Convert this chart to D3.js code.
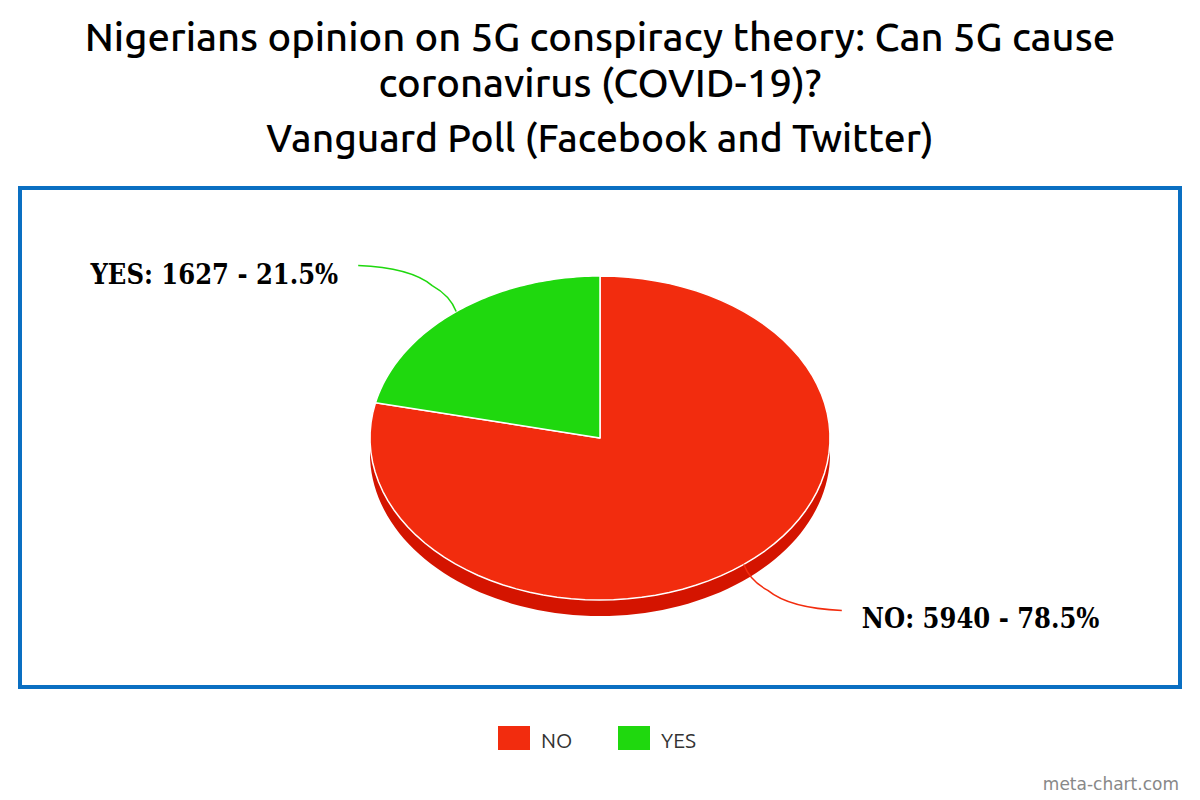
<!DOCTYPE html>
<html><head><meta charset="utf-8">
<script src="https://cdn.jsdelivr.net/npm/d3@7"></script>
<style>body{margin:0;background:#fff}</style>
</head><body>
<svg id="c" width="1200" height="800"></svg>
<script>
const titleLines = ["Nigerians opinion on 5G conspiracy theory: Can 5G cause", "coronavirus (COVID-19)?"];
const subtitle = "Vanguard Poll (Facebook and Twitter)";
const categories = ["NO", "YES"];
const values = [5940, 1627];
const percents = ["78.5%", "21.5%"];
const colors = ["#f22c0e", "#1fd80e"];
const sideColors = ["#d41400", "#15b006"];

const svg = d3.select("#c");
const W = 1200;
svg.append("rect").attr("width",1200).attr("height",800).attr("fill","#fff");

// titles
const tf = "Ubuntu, 'Noto Sans', 'Open Sans', sans-serif";
svg.selectAll("text.title").data(titleLines).join("text")
  .attr("x", W/2).attr("y",(d,i)=>51+i*46).attr("text-anchor","middle")
  .attr("font-family",tf).attr("font-size",40).attr("font-weight",500).attr("fill","#000").text(d=>d);
svg.append("text").attr("x",W/2).attr("y",152).attr("text-anchor","middle")
  .attr("font-family",tf).attr("font-size",39).attr("font-weight",500).attr("fill","#000").text(subtitle);

// frame
svg.append("rect").attr("x",20).attr("y",188).attr("width",1160).attr("height",499)
  .attr("fill","none").attr("stroke","#0a6fc2").attr("stroke-width",4);

// pie
const cx=600, cy=438, rx=230, ry=162, depth=16;
const pie = d3.pie().sort(null).value(d=>d.v);
const data = categories.map((c,i)=>({c, v:values[i], p:percents[i], i}));
const arcs = pie(data);
const pt = (a, dy=0) => [cx + rx*Math.sin(a), cy - ry*Math.cos(a) + dy];

function ellipseArcPath(p, a0, a1, dy, n=80){
  for(let k=0;k<=n;k++){
    const a = a0 + (a1-a0)*k/n;
    const q = pt(a, dy);
    p.lineTo(q[0], q[1]);
  }
}
const g = svg.append("g");
arcs.forEach(a=>{
  const s = Math.max(a.startAngle, Math.PI/2), e = Math.min(a.endAngle, 3*Math.PI/2);
  if (e <= s) return;
  const p = d3.path();
  const p0 = pt(s);
  p.moveTo(p0[0], p0[1]);
  ellipseArcPath(p, s, e, 0);
  ellipseArcPath(p, e, s, depth);
  p.closePath();
  g.append("path").attr("d", p.toString()).attr("fill", sideColors[a.data.i]);
});
arcs.forEach(a=>{
  const p = d3.path();
  p.moveTo(cx, cy);
  const p0 = pt(a.startAngle);
  p.lineTo(p0[0], p0[1]);
  ellipseArcPath(p, a.startAngle, a.endAngle, 0);
  p.closePath();
  g.append("path").attr("d", p.toString()).attr("fill", colors[a.data.i])
    .attr("stroke","#fff").attr("stroke-width",1.5).attr("stroke-linejoin","round");
});

// labels
const lf = "'DejaVu Serif Condensed', 'DejaVu Serif', serif";
arcs.forEach(a=>{
  const m = (a.startAngle + a.endAngle)/2;
  const s = pt(m);
  const dir = Math.sin(m) >= 0 ? 1 : -1;
  const vdir = Math.cos(m) >= 0 ? -1 : 1;
  const elbow = [s[0] + dir*16, s[1] + vdir*20];
  const end = [elbow[0] + dir*82, elbow[1] + vdir*26];
  const p = d3.path();
  p.moveTo(s[0], s[1]);
  p.quadraticCurveTo(s[0]+dir*6, elbow[1] - vdir*4, elbow[0]+dir*8, elbow[1]+vdir*6);
  p.quadraticCurveTo(elbow[0]+dir*30, end[1]-vdir*2, end[0], end[1]);
  svg.append("path").attr("d", p.toString()).attr("fill","none")
    .attr("stroke", colors[a.data.i]).attr("stroke-width",1.5);
  svg.append("text")
    .attr("x", end[0] + dir*20).attr("y", end[1] + 18)
    .attr("text-anchor", dir>0 ? "start" : "end")
    .attr("font-family", lf).attr("font-weight","bold").attr("font-size",27)
    .attr("fill","#000")
    .text(`${a.data.c}: ${a.data.v} - ${a.data.p}`);
});

// legend
const lg = svg.append("g");
const lx = [498, 618];
categories.forEach((c,i)=>{
  lg.append("rect").attr("x",lx[i]).attr("y",726).attr("width",32).attr("height",24).attr("fill",colors[i]);
  lg.append("text").attr("x",lx[i]+43).attr("y",748).attr("font-family",tf).attr("font-size",21)
    .attr("fill","#333").text(c);
});

svg.append("text").attr("x",1179).attr("y",790).attr("text-anchor","end")
  .attr("font-family","'DejaVu Sans', sans-serif").attr("font-size",17).attr("fill","#888").text("meta-chart.com");
</script>
</body></html>
